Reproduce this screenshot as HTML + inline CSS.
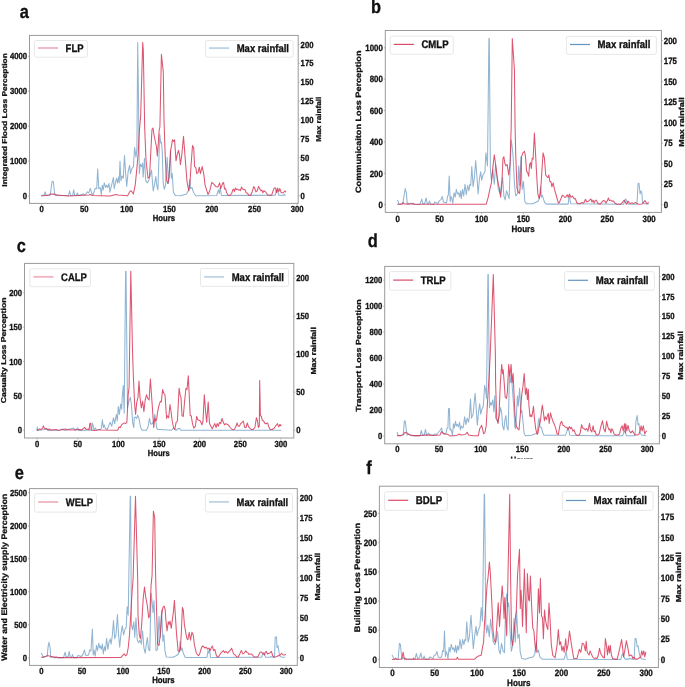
<!DOCTYPE html>
<html><head><meta charset="utf-8"><style>
html,body{margin:0;padding:0;background:#fff;width:685px;height:687px;overflow:hidden}
svg{display:block;filter:blur(0.3px)}
text{font-family:"Liberation Sans", sans-serif;font-weight:bold;fill:#111;stroke:#111;stroke-width:0.28px;text-rendering:geometricPrecision}
</style></head><body>
<svg width="685" height="687" viewBox="0 0 685 687">
<rect width="685" height="687" fill="#fff"/>
<clipPath id="clipa"><rect x="29.5" y="35.4" width="268.7" height="168"/></clipPath>
<polyline clip-path="url(#clipa)" points="41.2,195.5 44.1,195 45.1,191.9 46.3,195.5 50.2,195 52.1,181.2 53.3,181.7 54.8,195 56.3,195.5 57.4,194.5 58.4,195.5 68.6,195.5 69.6,190.9 70.7,195.5 72.7,195.5 73.7,189.9 74.7,195.5 76.3,195.5 77.3,192.9 78.3,195.5 81.9,194.5 83.4,193.9 85,195 87.5,191.9 88.8,192.9 90.3,188.3 91.6,192.9 93.1,195 95.2,188.3 96.7,188.8 97.7,168.9 98.8,188.8 100.3,187.8 101.3,195 102.2,185.2 103.2,189.9 104.3,182.9 105.7,187.5 106.6,185.2 107.8,187.5 109,183.5 109.9,192.2 111.3,186.4 113.4,177.6 114.2,188.7 116.5,178.2 117.5,182.9 118.6,177.1 119.2,182.9 120,161.3 120.9,180.6 122,175.9 123.3,178.2 124.5,155.5 125.5,171.2 126.7,186.4 128.2,171.2 129.6,165.4 130.5,173.6 131.7,168.9 133.4,166.6 134.6,147.4 136,157.3 136.9,149.1 137.7,42.6 138.5,100 139.3,173.6 140.4,164.3 141.6,166.6 142.5,163.1 143.1,177.1 144.5,158.4 145.7,180.6 147.4,182.9 149.1,179.4 151.5,170.1 153.2,191 154.4,185.2 155.8,176.5 156.7,185.2 157.9,189.9 159.7,134 160.8,143.3 161.4,142.1 162.2,150.3 163.2,182.9 164.3,189.3 165.5,185.2 167.2,157.3 168.4,183.5 169.6,166.6 170.5,150.3 171.3,178.2 172.2,173.6 173.4,192.2 175.4,195.5 180.6,195.7 186.4,194 188.8,189.9 189.7,179.4 190.5,188.7 192,187.5 193.4,192.2 195.8,195.7 203.9,195.7 216.7,195.5 218.5,189.9 219.3,193.4 220.2,187.5 221.4,195.5 275.2,195.3 276.4,190.1 277.2,191.7 277.7,190.7 278.8,195.3 283.4,195.3 284.4,194.2 285.4,195.8" fill="none" stroke="#4682b4" stroke-opacity="0.6" stroke-width="1.05" stroke-linejoin="round"/>
<polyline clip-path="url(#clipa)" points="41.2,196 49.2,195 50.2,194.1 54.3,194.1 56.3,195 62.5,195.5 68.6,196 89,195 90.6,194.5 92.1,195.5 110,196 116,194.5 117.7,195.1 127.6,195.7 130,191.3 131.3,190.8 133.4,194 135.2,185.2 136.7,170.1 138.1,154.9 139.3,131.6 140.7,115.3 142.7,42.6 143.3,50 144.7,128 146,160 148,178.2 149.5,177 152,129.3 153,128 154,135 156.5,147 157.3,156.1 158.3,143.3 159.1,130.5 159.9,127 161.4,54.4 163.3,72.1 164,120 165.2,154.9 166.4,179.4 167.8,183.5 169,178.2 170.7,150.3 172.5,139.8 173.6,141.5 174.6,139.8 176,160.8 177.1,154.9 178.5,150.3 179.5,154.9 180.4,164.8 181.8,154.9 183.5,136.3 185.3,159.6 187,181.7 188.8,191 189.9,184 191.1,164.3 192.5,145.6 193.7,147.9 194.6,166.6 195.8,167.7 196.7,173.6 198.1,172.4 199.3,167.2 200.4,173.6 202.2,166.6 203.7,173.6 205.1,185.2 206.2,188.7 208,194.5 209.7,191 211.8,182.3 213.2,183.5 215.6,186.4 217.9,187 219.6,182.9 220.8,188.7 222.5,183.5 223.6,182.5 224.6,189.1 225.6,188.6 226.6,192.7 228.2,195.3 230.2,195.3 231.8,193.2 232.8,189.6 233.8,189.1 234.3,191.7 235.5,188.1 236.6,189.6 237.6,189.1 238.9,190.1 239.9,189.6 240.4,190.7 241.5,187.1 242.5,189.1 244,189.6 245,189.6 246.1,192.7 247.6,193.2 248.6,195.3 250.7,195.3 252.2,191.7 253.7,186.6 254.7,188.1 255.8,191.7 257.3,190.7 258.6,186.4 259.9,189.1 260.9,190.7 261.9,190.1 262.9,192.7 263.9,190.7 265.5,191.7 267.5,194.7 269,195.3 271.6,195.3 273.1,190.7 274.2,188.1 275.7,188.1 276.5,192.7 277.7,188.1 278.8,191.7 279.8,188.6 281.3,192.7 283.4,192.7 284.9,190.7 285.9,192.2" fill="none" stroke="#d42c4e" stroke-opacity="0.8" stroke-width="1.05" stroke-linejoin="round"/>
<rect x="29.5" y="35.4" width="268.7" height="168" fill="none" stroke="#9a9a9a" stroke-width="1"/>
<line x1="41.6" y1="203.4" x2="41.6" y2="204.9" stroke="#9a9a9a" stroke-width="0.7"/>
<text transform="translate(41.6,211.5) scale(1,1.15)" font-size="7.7" text-anchor="middle">0</text>
<line x1="84.18" y1="203.4" x2="84.18" y2="204.9" stroke="#9a9a9a" stroke-width="0.7"/>
<text transform="translate(84.18,211.5) scale(1,1.15)" font-size="7.7" text-anchor="middle">50</text>
<line x1="126.77" y1="203.4" x2="126.77" y2="204.9" stroke="#9a9a9a" stroke-width="0.7"/>
<text transform="translate(126.77,211.5) scale(1,1.15)" font-size="7.7" text-anchor="middle">100</text>
<line x1="169.35" y1="203.4" x2="169.35" y2="204.9" stroke="#9a9a9a" stroke-width="0.7"/>
<text transform="translate(169.35,211.5) scale(1,1.15)" font-size="7.7" text-anchor="middle">150</text>
<line x1="211.93" y1="203.4" x2="211.93" y2="204.9" stroke="#9a9a9a" stroke-width="0.7"/>
<text transform="translate(211.93,211.5) scale(1,1.15)" font-size="7.7" text-anchor="middle">200</text>
<line x1="254.52" y1="203.4" x2="254.52" y2="204.9" stroke="#9a9a9a" stroke-width="0.7"/>
<text transform="translate(254.52,211.5) scale(1,1.15)" font-size="7.7" text-anchor="middle">250</text>
<line x1="297.1" y1="203.4" x2="297.1" y2="204.9" stroke="#9a9a9a" stroke-width="0.7"/>
<text transform="translate(297.1,211.5) scale(1,1.15)" font-size="7.7" text-anchor="middle">300</text>
<line x1="28" y1="196.1" x2="29.5" y2="196.1" stroke="#9a9a9a" stroke-width="0.7"/>
<text transform="translate(27.1,199.2) scale(1,1.15)" font-size="7.7" text-anchor="end">0</text>
<line x1="28" y1="161.15" x2="29.5" y2="161.15" stroke="#9a9a9a" stroke-width="0.7"/>
<text transform="translate(27.1,164.25) scale(1,1.15)" font-size="7.7" text-anchor="end">1000</text>
<line x1="28" y1="126.2" x2="29.5" y2="126.2" stroke="#9a9a9a" stroke-width="0.7"/>
<text transform="translate(27.1,129.3) scale(1,1.15)" font-size="7.7" text-anchor="end">2000</text>
<line x1="28" y1="91.25" x2="29.5" y2="91.25" stroke="#9a9a9a" stroke-width="0.7"/>
<text transform="translate(27.1,94.35) scale(1,1.15)" font-size="7.7" text-anchor="end">3000</text>
<line x1="28" y1="56.3" x2="29.5" y2="56.3" stroke="#9a9a9a" stroke-width="0.7"/>
<text transform="translate(27.1,59.4) scale(1,1.15)" font-size="7.7" text-anchor="end">4000</text>
<line x1="298.2" y1="195.6" x2="299.7" y2="195.6" stroke="#9a9a9a" stroke-width="0.7"/>
<text transform="translate(300.6,198.7) scale(1,1.15)" font-size="7.7">0</text>
<line x1="298.2" y1="176.7" x2="299.7" y2="176.7" stroke="#9a9a9a" stroke-width="0.7"/>
<text transform="translate(300.6,179.8) scale(1,1.15)" font-size="7.7">25</text>
<line x1="298.2" y1="157.8" x2="299.7" y2="157.8" stroke="#9a9a9a" stroke-width="0.7"/>
<text transform="translate(300.6,160.9) scale(1,1.15)" font-size="7.7">50</text>
<line x1="298.2" y1="138.9" x2="299.7" y2="138.9" stroke="#9a9a9a" stroke-width="0.7"/>
<text transform="translate(300.6,142) scale(1,1.15)" font-size="7.7">75</text>
<line x1="298.2" y1="120" x2="299.7" y2="120" stroke="#9a9a9a" stroke-width="0.7"/>
<text transform="translate(300.6,123.1) scale(1,1.15)" font-size="7.7">100</text>
<line x1="298.2" y1="101.1" x2="299.7" y2="101.1" stroke="#9a9a9a" stroke-width="0.7"/>
<text transform="translate(300.6,104.2) scale(1,1.15)" font-size="7.7">125</text>
<line x1="298.2" y1="82.2" x2="299.7" y2="82.2" stroke="#9a9a9a" stroke-width="0.7"/>
<text transform="translate(300.6,85.3) scale(1,1.15)" font-size="7.7">150</text>
<line x1="298.2" y1="63.3" x2="299.7" y2="63.3" stroke="#9a9a9a" stroke-width="0.7"/>
<text transform="translate(300.6,66.4) scale(1,1.15)" font-size="7.7">175</text>
<line x1="298.2" y1="44.4" x2="299.7" y2="44.4" stroke="#9a9a9a" stroke-width="0.7"/>
<text transform="translate(300.6,47.5) scale(1,1.15)" font-size="7.7">200</text>
<text transform="translate(6.6,119.9) rotate(-90) scale(1.2,1)" font-size="7" text-anchor="middle">Integrated Flood Loss Perception</text>
<text transform="translate(320.6,119.2) rotate(-90) scale(1.15,1)" font-size="7.1" text-anchor="middle">Max rainfall</text>
<text transform="translate(163.9,220.5) scale(1,1.15)" font-size="7.7" text-anchor="middle">Hours</text>
<text transform="translate(19.82,17.5) scale(1,1.15)" font-size="16.4">a</text>
<rect x="34.4" y="40.5" width="53" height="16.7" rx="1.8" fill="#fff" stroke="#e4e4e4" stroke-width="0.9"/>
<line x1="38" y1="48" x2="58" y2="48" stroke="#d42c4e" stroke-opacity="0.34" stroke-width="1.9"/>
<text transform="translate(65.6,51.67) scale(1,1.15)" font-size="9.5">FLP</text>
<rect x="205.5" y="40.5" width="87.6" height="16.7" rx="1.8" fill="#fff" stroke="#e4e4e4" stroke-width="0.9"/>
<line x1="209.1" y1="48.1" x2="229.1" y2="48.1" stroke="#4682b4" stroke-opacity="0.34" stroke-width="1.9"/>
<text transform="translate(236.7,51.77) scale(1,1.15)" font-size="9.5">Max rainfall</text>
<clipPath id="clipb"><rect x="385.3" y="30.5" width="276.1" height="181.9"/></clipPath>
<polyline clip-path="url(#clipb)" points="397.2,200.1 398.1,201.1 398.9,204.2 402.7,203.6 404.2,195 405.2,188.6 406.4,192.9 407.3,204.2 408.1,203.1 408.8,204.2 410.1,203.6 411.3,203.1 412.4,204.2 420,204.4 421.8,199 422.8,203.6 424.6,203.6 426.2,198 427.2,203.6 428.5,203.6 429.4,201.1 430.6,204.2 433.8,204.2 434.9,202.1 436.4,202.6 437.9,203.6 439.5,200.6 441,199.6 442.2,196.5 443.5,202.1 445.1,202.6 446.6,202.6 447.6,196 448.3,195.5 449.2,176.1 450.2,201.6 451,196.5 451.7,198 452.7,203.1 454.1,192.9 455.3,197 456.3,189.3 457.5,193.9 458.6,192.9 459.6,197 460.6,190.9 461.3,198.6 462.6,189.4 463.7,196 465,184.2 466.3,194.7 467.6,185.5 468.9,190.7 469.8,184.2 470.7,185.5 471.8,166.5 473.1,186.8 474.4,177.6 475.7,160.6 476.8,175 478.1,194 479.4,179 480.7,171.7 481.6,180.3 482.9,175 484.9,171.7 485.9,152.8 487.5,165.9 488.9,38.6 489.3,38.6 490.4,169.8 491.4,180.3 492.8,169.8 494.3,184.2 495.6,164.5 496.9,176.3 498.3,189.4 500,193.4 501.3,185.5 502.6,177.6 503.9,196 505.2,199.9 506.5,190.7 507.8,194.7 509.1,198.6 510.4,161.9 511.1,139.7 512.1,146.2 513.1,156.7 514.4,182.9 515.7,196 517.6,193.4 518.7,165.9 519.6,185.5 520.9,156.7 522.2,189.4 523.5,181.6 524.8,201.2 526.3,203.8 532.9,203.8 535.5,202.5 538.1,201.2 539.4,198.6 540.5,186.8 541.4,197.3 542.3,195.3 543.3,198.6 544.7,202.5 546.6,204.1 568.2,204.1 568.9,197.3 569.5,196 570.2,201.2 570.9,203.8 623.7,204.2 624.7,201.1 625.8,199 627,201.6 628,204.2 637,204.2 638,183.7 639,183.2 640.1,193.9 641.1,190.9 641.9,192.9 642.6,203.1 643.6,203.6 648.8,204.2" fill="none" stroke="#4682b4" stroke-opacity="0.6" stroke-width="1.05" stroke-linejoin="round"/>
<polyline clip-path="url(#clipb)" points="397.2,204.2 402.2,204.2 403.2,202.6 404.2,204 412.4,204 413.4,203.3 414.4,204.2 486.2,204.2 488.2,197.3 490.1,188.1 491.4,182.9 493,165.9 494.3,154.7 495.6,164.5 496.9,175 498.3,184.2 499.3,188.1 500.6,197.3 501.7,186.8 503,158 503.9,156.7 504.8,163.2 505.9,165.9 507.2,164.5 508.7,175 510,164.5 511.2,127 512.3,38.6 514.4,69.3 515.1,127 515.7,154 517,188.1 518.3,192.1 519.6,193.4 520.5,182.9 521.6,156.7 522.9,152.8 524.5,151.4 525.5,156.7 526.6,171.1 527.6,172.4 528.7,176.3 529.6,164.5 530.5,162.6 531.3,168.5 532.2,158 533.1,159.3 534.4,133.1 535.5,152.8 536.5,172.4 537.8,193.4 539.1,198.6 540.5,193.4 541.8,172.4 543.1,152.8 544.4,158 545.7,175 546.6,176.3 547.9,177.6 548.8,175 549.9,181.6 550.9,181.6 551.9,186.8 553.2,182.9 554.5,189.4 556.4,196 558.4,203.2 559.3,202.5 561,198.6 562.3,195.3 563.6,196 564.6,197.3 565.6,197.3 567.2,194.7 568.2,197.3 569.5,194 570.9,197.3 572.4,196 574.1,198.6 575.4,198.6 576.7,202.5 578.1,203.8 580,203.8 582,202.5 583.7,203.2 585.5,199.3 586.6,201.9 588.5,201.2 589.8,199.9 591,199 592,202.1 593.1,200.1 594.1,203.1 595.1,200.6 596.1,200.1 597.2,202.1 598.2,203.6 600.2,204.2 601.8,202.1 603.3,200.6 604.8,201.1 606.1,203.1 607.4,200.6 608.4,198 609.4,200.6 610.4,200.1 612,201.1 613.5,201.1 614.5,202.6 615.5,203.6 617.1,204.2 620.7,204.2 622.7,202.1 624.2,200.1 625.3,202.1 626.3,204.2 627,203.1 628,201.1 629.3,203.1 630.4,203.6 631.9,202.6 633.4,203.6 635,202.6 636.5,203.1 638,204.2 642.1,204 643.6,202.1 645,200.6 646,202.6 647,203.6 648.2,202.6 648.8,203.1" fill="none" stroke="#d42c4e" stroke-opacity="0.8" stroke-width="1.05" stroke-linejoin="round"/>
<rect x="385.3" y="30.5" width="276.1" height="181.9" fill="none" stroke="#9a9a9a" stroke-width="1"/>
<line x1="397.7" y1="212.4" x2="397.7" y2="213.9" stroke="#9a9a9a" stroke-width="0.7"/>
<text transform="translate(397.7,221.9) scale(1,1.15)" font-size="7.9" text-anchor="middle">0</text>
<line x1="439.6" y1="212.4" x2="439.6" y2="213.9" stroke="#9a9a9a" stroke-width="0.7"/>
<text transform="translate(439.6,221.9) scale(1,1.15)" font-size="7.9" text-anchor="middle">50</text>
<line x1="481.5" y1="212.4" x2="481.5" y2="213.9" stroke="#9a9a9a" stroke-width="0.7"/>
<text transform="translate(481.5,221.9) scale(1,1.15)" font-size="7.9" text-anchor="middle">100</text>
<line x1="523.4" y1="212.4" x2="523.4" y2="213.9" stroke="#9a9a9a" stroke-width="0.7"/>
<text transform="translate(523.4,221.9) scale(1,1.15)" font-size="7.9" text-anchor="middle">150</text>
<line x1="565.3" y1="212.4" x2="565.3" y2="213.9" stroke="#9a9a9a" stroke-width="0.7"/>
<text transform="translate(565.3,221.9) scale(1,1.15)" font-size="7.9" text-anchor="middle">200</text>
<line x1="607.2" y1="212.4" x2="607.2" y2="213.9" stroke="#9a9a9a" stroke-width="0.7"/>
<text transform="translate(607.2,221.9) scale(1,1.15)" font-size="7.9" text-anchor="middle">250</text>
<line x1="649.1" y1="212.4" x2="649.1" y2="213.9" stroke="#9a9a9a" stroke-width="0.7"/>
<text transform="translate(649.1,221.9) scale(1,1.15)" font-size="7.9" text-anchor="middle">300</text>
<line x1="383.8" y1="204.7" x2="385.3" y2="204.7" stroke="#9a9a9a" stroke-width="0.7"/>
<text transform="translate(382.9,207.88) scale(1,1.15)" font-size="7.9" text-anchor="end">0</text>
<line x1="383.8" y1="173.32" x2="385.3" y2="173.32" stroke="#9a9a9a" stroke-width="0.7"/>
<text transform="translate(382.9,176.5) scale(1,1.15)" font-size="7.9" text-anchor="end">200</text>
<line x1="383.8" y1="141.94" x2="385.3" y2="141.94" stroke="#9a9a9a" stroke-width="0.7"/>
<text transform="translate(382.9,145.12) scale(1,1.15)" font-size="7.9" text-anchor="end">400</text>
<line x1="383.8" y1="110.56" x2="385.3" y2="110.56" stroke="#9a9a9a" stroke-width="0.7"/>
<text transform="translate(382.9,113.74) scale(1,1.15)" font-size="7.9" text-anchor="end">600</text>
<line x1="383.8" y1="79.18" x2="385.3" y2="79.18" stroke="#9a9a9a" stroke-width="0.7"/>
<text transform="translate(382.9,82.36) scale(1,1.15)" font-size="7.9" text-anchor="end">800</text>
<line x1="383.8" y1="47.8" x2="385.3" y2="47.8" stroke="#9a9a9a" stroke-width="0.7"/>
<text transform="translate(382.9,50.98) scale(1,1.15)" font-size="7.9" text-anchor="end">1000</text>
<line x1="661.4" y1="204.8" x2="662.9" y2="204.8" stroke="#9a9a9a" stroke-width="0.7"/>
<text transform="translate(663.8,207.98) scale(1,1.15)" font-size="7.9">0</text>
<line x1="661.4" y1="184.28" x2="662.9" y2="184.28" stroke="#9a9a9a" stroke-width="0.7"/>
<text transform="translate(663.8,187.45) scale(1,1.15)" font-size="7.9">25</text>
<line x1="661.4" y1="163.75" x2="662.9" y2="163.75" stroke="#9a9a9a" stroke-width="0.7"/>
<text transform="translate(663.8,166.93) scale(1,1.15)" font-size="7.9">50</text>
<line x1="661.4" y1="143.23" x2="662.9" y2="143.23" stroke="#9a9a9a" stroke-width="0.7"/>
<text transform="translate(663.8,146.4) scale(1,1.15)" font-size="7.9">75</text>
<line x1="661.4" y1="122.7" x2="662.9" y2="122.7" stroke="#9a9a9a" stroke-width="0.7"/>
<text transform="translate(663.8,125.88) scale(1,1.15)" font-size="7.9">100</text>
<line x1="661.4" y1="102.17" x2="662.9" y2="102.17" stroke="#9a9a9a" stroke-width="0.7"/>
<text transform="translate(663.8,105.35) scale(1,1.15)" font-size="7.9">125</text>
<line x1="661.4" y1="81.65" x2="662.9" y2="81.65" stroke="#9a9a9a" stroke-width="0.7"/>
<text transform="translate(663.8,84.83) scale(1,1.15)" font-size="7.9">150</text>
<line x1="661.4" y1="61.12" x2="662.9" y2="61.12" stroke="#9a9a9a" stroke-width="0.7"/>
<text transform="translate(663.8,64.3) scale(1,1.15)" font-size="7.9">175</text>
<line x1="661.4" y1="40.6" x2="662.9" y2="40.6" stroke="#9a9a9a" stroke-width="0.7"/>
<text transform="translate(663.8,43.78) scale(1,1.15)" font-size="7.9">200</text>
<text transform="translate(361.3,121.75) rotate(-90) scale(1.17,1)" font-size="7.8" text-anchor="middle">Communicaiton Loss Perception</text>
<text transform="translate(683.8,122.1) rotate(-90) scale(1.25,1)" font-size="7.2" text-anchor="middle">Max rainfall</text>
<text transform="translate(523.1,231.7) scale(1,1.15)" font-size="8" text-anchor="middle">Hours</text>
<text transform="translate(371.02,12.9) scale(1,1.15)" font-size="16.4">b</text>
<rect x="390.2" y="36.2" width="63.1" height="18" rx="1.8" fill="#fff" stroke="#e4e4e4" stroke-width="0.9"/>
<line x1="393.8" y1="44.4" x2="413.8" y2="44.4" stroke="#d42c4e" stroke-opacity="0.85" stroke-width="1.2"/>
<text transform="translate(421.4,48.11) scale(1,1.15)" font-size="9.6">CMLP</text>
<rect x="566.4" y="36.4" width="90" height="18" rx="1.8" fill="#fff" stroke="#e4e4e4" stroke-width="0.9"/>
<line x1="570" y1="44.5" x2="590" y2="44.5" stroke="#4682b4" stroke-opacity="0.85" stroke-width="1.2"/>
<text transform="translate(597.6,48.21) scale(1,1.15)" font-size="9.6">Max rainfall</text>
<clipPath id="clipc"><rect x="24.5" y="263.4" width="269.3" height="174.6"/></clipPath>
<polyline clip-path="url(#clipc)" points="36.8,430.5 37.2,427.1 37.9,430.5 47.3,428.9 48.3,430.5 60,430 62.6,428.9 64.1,430.5 73.8,428.1 74.9,430.5 77.9,427.9 78.9,430.5 91.7,430 92.4,423 93.2,425.9 94.1,430 95.3,427.9 96.3,430 100,429.5 101.3,428.8 102.4,419.7 103.3,427.5 104.2,424.9 105.2,428.2 107.2,429.5 108.5,426.2 110.2,422.3 111.8,426.2 113.5,417.7 114.7,423.6 116.4,414.4 117.3,421 118.3,406.6 119.4,414.4 120.7,404 121.6,409.2 122.3,396.1 123.3,385.6 124.2,413.1 125.6,271.2 126,271.2 127.5,407.9 128.8,401.3 130.4,397.4 131.4,405.3 132.8,423.6 133.8,427.5 134.3,417.7 135.6,417.1 136.7,418.4 137.7,415.1 139,418.4 140.6,427.5 142.2,430.2 146.5,430.2 148.2,426.2 149.5,418.4 150.8,424.3 152.4,423.6 153.7,421 154.8,414.4 155.7,419.7 156.6,427.5 157.6,429.5 160.3,429.5 171.6,430.2 173.5,428.2 174.8,429.5 176.1,430.2 178.1,428.8 179.4,428.2 180.7,430.2 281.3,430.2" fill="none" stroke="#4682b4" stroke-opacity="0.6" stroke-width="1.05" stroke-linejoin="round"/>
<polyline clip-path="url(#clipc)" points="36.8,430.5 39.6,428.9 41.1,429.5 42.7,427.9 43.4,425.9 44.2,427.9 45.2,428.9 46.2,428.4 47.8,430 49.3,428.9 50.8,430 57,429.5 58,430.5 65.7,428.9 66.7,430 68.7,429.5 70.3,430 80,429.5 81.5,430 83.5,428.4 84.6,427.4 85.6,428.9 86.6,429.5 88.1,428.9 89.2,430 89.7,423.8 90.7,423.3 91.2,430 94.3,430.5 98.4,430 99.4,429.5 100.4,430 117.7,430.2 119,426.9 120.3,427.5 121.6,424.9 122.9,423.6 124.2,422.9 125.5,423.6 126.9,422.3 127.5,409.2 128.2,394.8 129.1,386.9 129.6,350 130.8,271.2 132.5,350 133.4,377.8 134.7,405.3 135.6,414.4 136.7,402.6 138,397.4 139,381 140,397.4 141.3,407.9 142.6,401.3 143.9,411.8 145.2,400 146.5,394.8 147.8,398.7 149.1,400 150.4,379.1 151.4,393.5 152.4,407.9 153.7,427.5 154.8,418.4 155.7,421 156.6,419.7 157.6,411.8 159,405.3 160.3,401.3 161.3,402 162.6,389.5 163.9,393.5 165,394.8 165.7,405.3 166.6,418.4 167.6,415.7 168.7,417.7 170,404.6 170.9,410.5 172.2,421 173.5,427.5 174.8,429.5 176.1,422.3 177.4,421 179.1,388.2 180.1,394.8 181,397.4 182,415.7 183.3,416.4 184.7,400 186,388.2 187,389.5 188.3,375.8 189.2,394.8 190.2,415.7 191.2,415.7 192.5,423.6 193.8,428.2 195.4,426.2 196.7,416.4 197.8,419.7 199.1,420.3 200.4,421 201.9,424.9 203,421 204.3,394.8 205.6,411.8 206.7,422.3 208.2,402 209.5,423.6 210.9,426.2 212.2,428.8 213.5,426.2 214.8,423.6 216.1,427.5 217.1,423.6 218.5,426.2 219.4,422.3 220.7,423.6 222,418.4 223.3,422.3 224.6,424.9 225.9,423.6 227,424.3 228.3,424.9 230.2,427.5 232.2,429.5 234.2,429.5 235.5,427.5 237.1,423 238.1,426.2 239.4,426.2 240.7,423.6 242,422.3 243.3,421 244.7,427.5 246,427.5 247.3,423 248.6,426.9 249.9,428.2 251.2,429.5 253.2,429.5 254.9,427.5 256.4,417.7 257.5,421 258.4,427.5 259.3,426.2 259.7,380.4 260.4,415.7 261.4,416.4 262.3,420.3 263.6,421 265,423.6 266.3,423.6 267.6,423 268.9,426.9 270.2,429.5 272.2,429.5 274.1,428.2 275.4,426.2 277.4,423.6 278.7,426.9 280,424.3 281.3,426.2" fill="none" stroke="#d42c4e" stroke-opacity="0.8" stroke-width="1.05" stroke-linejoin="round"/>
<rect x="24.5" y="263.4" width="269.3" height="174.6" fill="none" stroke="#9a9a9a" stroke-width="1"/>
<line x1="37.2" y1="438" x2="37.2" y2="439.5" stroke="#9a9a9a" stroke-width="0.7"/>
<text transform="translate(37.2,446.5) scale(1,1.15)" font-size="7.7" text-anchor="middle">0</text>
<line x1="77.82" y1="438" x2="77.82" y2="439.5" stroke="#9a9a9a" stroke-width="0.7"/>
<text transform="translate(77.82,446.5) scale(1,1.15)" font-size="7.7" text-anchor="middle">50</text>
<line x1="118.43" y1="438" x2="118.43" y2="439.5" stroke="#9a9a9a" stroke-width="0.7"/>
<text transform="translate(118.43,446.5) scale(1,1.15)" font-size="7.7" text-anchor="middle">100</text>
<line x1="159.05" y1="438" x2="159.05" y2="439.5" stroke="#9a9a9a" stroke-width="0.7"/>
<text transform="translate(159.05,446.5) scale(1,1.15)" font-size="7.7" text-anchor="middle">150</text>
<line x1="199.67" y1="438" x2="199.67" y2="439.5" stroke="#9a9a9a" stroke-width="0.7"/>
<text transform="translate(199.67,446.5) scale(1,1.15)" font-size="7.7" text-anchor="middle">200</text>
<line x1="240.28" y1="438" x2="240.28" y2="439.5" stroke="#9a9a9a" stroke-width="0.7"/>
<text transform="translate(240.28,446.5) scale(1,1.15)" font-size="7.7" text-anchor="middle">250</text>
<line x1="280.9" y1="438" x2="280.9" y2="439.5" stroke="#9a9a9a" stroke-width="0.7"/>
<text transform="translate(280.9,446.5) scale(1,1.15)" font-size="7.7" text-anchor="middle">300</text>
<line x1="23" y1="430.2" x2="24.5" y2="430.2" stroke="#9a9a9a" stroke-width="0.7"/>
<text transform="translate(22.1,433.3) scale(1,1.15)" font-size="7.7" text-anchor="end">0</text>
<line x1="23" y1="395.85" x2="24.5" y2="395.85" stroke="#9a9a9a" stroke-width="0.7"/>
<text transform="translate(22.1,398.95) scale(1,1.15)" font-size="7.7" text-anchor="end">50</text>
<line x1="23" y1="361.5" x2="24.5" y2="361.5" stroke="#9a9a9a" stroke-width="0.7"/>
<text transform="translate(22.1,364.6) scale(1,1.15)" font-size="7.7" text-anchor="end">100</text>
<line x1="23" y1="327.15" x2="24.5" y2="327.15" stroke="#9a9a9a" stroke-width="0.7"/>
<text transform="translate(22.1,330.25) scale(1,1.15)" font-size="7.7" text-anchor="end">150</text>
<line x1="23" y1="292.8" x2="24.5" y2="292.8" stroke="#9a9a9a" stroke-width="0.7"/>
<text transform="translate(22.1,295.9) scale(1,1.15)" font-size="7.7" text-anchor="end">200</text>
<line x1="293.8" y1="430.2" x2="295.3" y2="430.2" stroke="#9a9a9a" stroke-width="0.7"/>
<text transform="translate(296.2,433.3) scale(1,1.15)" font-size="7.7">0</text>
<line x1="293.8" y1="392.23" x2="295.3" y2="392.23" stroke="#9a9a9a" stroke-width="0.7"/>
<text transform="translate(296.2,395.32) scale(1,1.15)" font-size="7.7">50</text>
<line x1="293.8" y1="354.25" x2="295.3" y2="354.25" stroke="#9a9a9a" stroke-width="0.7"/>
<text transform="translate(296.2,357.35) scale(1,1.15)" font-size="7.7">100</text>
<line x1="293.8" y1="316.27" x2="295.3" y2="316.27" stroke="#9a9a9a" stroke-width="0.7"/>
<text transform="translate(296.2,319.37) scale(1,1.15)" font-size="7.7">150</text>
<line x1="293.8" y1="278.3" x2="295.3" y2="278.3" stroke="#9a9a9a" stroke-width="0.7"/>
<text transform="translate(296.2,281.4) scale(1,1.15)" font-size="7.7">200</text>
<text transform="translate(6.4,350.45) rotate(-90) scale(1.22,1)" font-size="7.1" text-anchor="middle">Casualty Loss Perception</text>
<text transform="translate(316.2,350.85) rotate(-90) scale(1.2,1)" font-size="7.2" text-anchor="middle">Max rainfall</text>
<text transform="translate(158.8,455.6) scale(1,1.15)" font-size="7.6" text-anchor="middle">Hours</text>
<text transform="translate(16.76,252.4) scale(1,1.15)" font-size="16.4">c</text>
<rect x="29.9" y="268.8" width="60.6" height="17.9" rx="1.8" fill="#fff" stroke="#e4e4e4" stroke-width="0.9"/>
<line x1="33.5" y1="276.85" x2="53.5" y2="276.85" stroke="#d42c4e" stroke-opacity="0.34" stroke-width="1.9"/>
<text transform="translate(61.1,280.52) scale(1,1.15)" font-size="9.5">CALP</text>
<rect x="200.5" y="268.6" width="88" height="17.7" rx="1.8" fill="#fff" stroke="#e4e4e4" stroke-width="0.9"/>
<line x1="204.1" y1="276.9" x2="224.1" y2="276.9" stroke="#4682b4" stroke-opacity="0.34" stroke-width="1.9"/>
<text transform="translate(231.7,280.57) scale(1,1.15)" font-size="9.5">Max rainfall</text>
<clipPath id="clipd"><rect x="384.7" y="266.4" width="274.7" height="177.4"/></clipPath>
<polyline clip-path="url(#clipd)" points="397,432 398.1,435.1 399.1,435.6 403.2,435.1 404.4,420.8 405.2,421.3 406.2,428.9 407.1,435.1 408.3,434 409.8,435.1 411.3,435.6 420,435.6 421.4,430.5 422.4,435.1 424.1,435.1 425.5,429.5 426.5,435.1 427.7,434 428.7,433 429.7,435.1 433.3,435.1 434.9,434 436.4,434.6 437.9,433 439.5,431 440.5,430 441.5,427.9 442.5,432 443.5,433 445.1,434 446.1,433 447.1,427.9 447.9,427.9 448.6,408.5 449.4,408.5 450,430 450.7,428.9 451.7,432 452.4,435.1 453.5,423.8 454.3,427.9 455.5,421.3 456.3,425.9 457.3,424.3 458.4,426.9 459.6,422.3 460.4,430 461.4,425.9 462.4,427.9 463.3,427.3 464.6,416.8 465.9,424.7 467.2,418.1 468.5,422.1 469.4,416.8 470.5,399.1 471.5,418.1 473.1,414.2 475.1,393.2 476,405 477.3,425.3 478.6,411.6 479.7,403.7 480.7,414.2 482,409 483.3,406.3 484.6,385.4 485.5,389.3 486.5,398.5 487.9,274.6 488.3,274.6 489.5,407.6 490.4,402.4 491.4,405 492.8,399.8 493.8,411.6 494.7,395.9 495.6,418.1 496.7,419.4 498,422.1 499.3,415.5 500.6,407.6 501.7,412.9 502.6,426 503.9,429.9 504.8,420.7 505.9,415.5 506.9,427.3 508.2,429.9 509.5,372.3 510.4,382.8 511.5,374.9 512.4,389.3 513.7,406.3 514.8,427.3 515.7,428.6 517.4,395.9 518.3,406.3 519.6,388 520.9,412.9 521.8,410.3 522.9,420.7 524.2,433.8 525.5,435.8 531.6,435.2 535.5,433.8 537.4,432.5 538.4,420.7 539.1,418.1 540.1,427.3 541.4,427.3 542.7,432.5 544,435.2 565.6,435.2 566.9,431.2 568,428 568.9,429.9 569.8,435.2 595,435.8 622.7,435.8 624.2,430.9 625.3,431.9 626.3,435.8 635,435.8 636,420.7 637.2,415.5 638,424.7 639,423.7 640.1,432.9 641.6,435 646.2,435.8" fill="none" stroke="#4682b4" stroke-opacity="0.6" stroke-width="1.05" stroke-linejoin="round"/>
<polyline clip-path="url(#clipd)" points="397,435.6 401.1,435.6 403.2,434.6 405.2,432.2 406.2,433 407.3,433 408.3,434 410.3,435.1 413.9,435.6 420.5,435.6 425.7,435.1 428.7,435.1 433.3,435.6 440,435.1 441.5,431.5 442.5,433 444,434 446.1,434 448.1,434.6 450.2,436.1 456.3,435.6 459.4,434 460.9,435.1 465.2,434.5 467.2,432.3 468.5,434.9 473.1,435.8 478.3,435.8 479.7,428.6 480.7,427.3 481.6,425.3 482.5,428.6 483.6,433.8 484.9,432.5 486.2,426 487.5,402.4 489.1,376.2 490.2,355 493.3,274.6 495.4,355 495.6,382.8 496.7,418.1 498,423.4 499,415.5 500.3,384.1 501.7,364.4 502.6,373.6 503.2,369.7 504.3,384.1 505.2,397.2 506.5,398.5 507.4,391.9 508.7,364.4 509.8,376.2 511.1,364.4 512.1,382.8 513.1,373.6 514,393.2 515,415.5 516.3,426 517.6,428.6 519,429.9 520.3,415.5 521.6,395.9 522.9,386.7 524.2,373.6 525.5,394.5 526.6,388 527.4,399.8 528.3,389.3 528.9,405 530,416.8 530.9,414.9 531.8,416.8 532.9,410.3 533.5,406.3 534.4,418.1 535.7,428.6 537.1,434.5 538.1,432.5 539.1,426 540.5,420.7 541.4,411.6 542.3,405 543.3,411.6 544.4,420.7 545.3,416.8 546.6,419.4 547.5,415.5 548.3,413.5 549.2,423.4 550.5,412.9 551.9,418.1 553.2,422.1 554.5,424.7 555.8,428.6 557.1,433.8 558.4,434.5 559.3,428.6 560.4,423.4 561.7,421.4 563,425.3 564.3,426 565.6,427.3 566.9,427.3 568,429.9 569.3,426.6 570.6,428.6 571.5,427.3 572.8,431.2 574.1,429.9 575.4,433.8 576.7,435.2 578.7,435.2 580,433.8 581.6,424.7 582.6,428 584,428.6 585.3,429.9 586.6,428.6 587.9,431.2 589.5,423.4 590.5,429.9 591.8,431.9 593.1,425.8 594.1,431.9 595.1,430.9 596.3,435 597.7,435 599.2,433.9 600.7,426.8 602.5,420.7 603.8,428.8 605.3,431.9 606.6,421.2 607.9,426.8 608.9,429.9 609.9,428.8 610.9,432.9 611.7,428.8 612.7,429.9 614,433.9 615.5,435 618.1,435 619.6,433.9 620.7,428.8 622.2,425.8 623.2,430.9 624.5,423.7 625.3,432.9 625.8,423.7 626.8,430.9 628,425.3 629.3,430.9 630.9,432.9 632.4,430.9 633.7,432.9 635,435 637,435 638.8,434.5 640.1,430.9 641.1,425.8 642.1,430.9 643.3,425.8 644.7,433.9 645.7,431.9 646.7,430.9" fill="none" stroke="#d42c4e" stroke-opacity="0.8" stroke-width="1.05" stroke-linejoin="round"/>
<rect x="384.7" y="266.4" width="274.7" height="177.4" fill="none" stroke="#9a9a9a" stroke-width="1"/>
<line x1="397.3" y1="443.8" x2="397.3" y2="445.3" stroke="#9a9a9a" stroke-width="0.7"/>
<text transform="translate(397.3,452.4) scale(1,1.15)" font-size="7.7" text-anchor="middle">0</text>
<line x1="438.95" y1="443.8" x2="438.95" y2="445.3" stroke="#9a9a9a" stroke-width="0.7"/>
<text transform="translate(438.95,452.4) scale(1,1.15)" font-size="7.7" text-anchor="middle">50</text>
<line x1="480.6" y1="443.8" x2="480.6" y2="445.3" stroke="#9a9a9a" stroke-width="0.7"/>
<text transform="translate(480.6,452.4) scale(1,1.15)" font-size="7.7" text-anchor="middle">100</text>
<line x1="522.25" y1="443.8" x2="522.25" y2="445.3" stroke="#9a9a9a" stroke-width="0.7"/>
<text transform="translate(522.25,452.4) scale(1,1.15)" font-size="7.7" text-anchor="middle">150</text>
<line x1="563.9" y1="443.8" x2="563.9" y2="445.3" stroke="#9a9a9a" stroke-width="0.7"/>
<text transform="translate(563.9,452.4) scale(1,1.15)" font-size="7.7" text-anchor="middle">200</text>
<line x1="605.55" y1="443.8" x2="605.55" y2="445.3" stroke="#9a9a9a" stroke-width="0.7"/>
<text transform="translate(605.55,452.4) scale(1,1.15)" font-size="7.7" text-anchor="middle">250</text>
<line x1="647.2" y1="443.8" x2="647.2" y2="445.3" stroke="#9a9a9a" stroke-width="0.7"/>
<text transform="translate(647.2,452.4) scale(1,1.15)" font-size="7.7" text-anchor="middle">300</text>
<line x1="383.2" y1="435.9" x2="384.7" y2="435.9" stroke="#9a9a9a" stroke-width="0.7"/>
<text transform="translate(382.3,439) scale(1,1.15)" font-size="7.7" text-anchor="end">0</text>
<line x1="383.2" y1="409.95" x2="384.7" y2="409.95" stroke="#9a9a9a" stroke-width="0.7"/>
<text transform="translate(382.3,413.05) scale(1,1.15)" font-size="7.7" text-anchor="end">200</text>
<line x1="383.2" y1="384" x2="384.7" y2="384" stroke="#9a9a9a" stroke-width="0.7"/>
<text transform="translate(382.3,387.1) scale(1,1.15)" font-size="7.7" text-anchor="end">400</text>
<line x1="383.2" y1="358.05" x2="384.7" y2="358.05" stroke="#9a9a9a" stroke-width="0.7"/>
<text transform="translate(382.3,361.15) scale(1,1.15)" font-size="7.7" text-anchor="end">600</text>
<line x1="383.2" y1="332.1" x2="384.7" y2="332.1" stroke="#9a9a9a" stroke-width="0.7"/>
<text transform="translate(382.3,335.2) scale(1,1.15)" font-size="7.7" text-anchor="end">800</text>
<line x1="383.2" y1="306.15" x2="384.7" y2="306.15" stroke="#9a9a9a" stroke-width="0.7"/>
<text transform="translate(382.3,309.25) scale(1,1.15)" font-size="7.7" text-anchor="end">1000</text>
<line x1="383.2" y1="280.2" x2="384.7" y2="280.2" stroke="#9a9a9a" stroke-width="0.7"/>
<text transform="translate(382.3,283.3) scale(1,1.15)" font-size="7.7" text-anchor="end">1200</text>
<line x1="659.4" y1="435.6" x2="660.9" y2="435.6" stroke="#9a9a9a" stroke-width="0.7"/>
<text transform="translate(661.8,438.7) scale(1,1.15)" font-size="7.7">0</text>
<line x1="659.4" y1="415.73" x2="660.9" y2="415.73" stroke="#9a9a9a" stroke-width="0.7"/>
<text transform="translate(661.8,418.82) scale(1,1.15)" font-size="7.7">25</text>
<line x1="659.4" y1="395.85" x2="660.9" y2="395.85" stroke="#9a9a9a" stroke-width="0.7"/>
<text transform="translate(661.8,398.95) scale(1,1.15)" font-size="7.7">50</text>
<line x1="659.4" y1="375.98" x2="660.9" y2="375.98" stroke="#9a9a9a" stroke-width="0.7"/>
<text transform="translate(661.8,379.07) scale(1,1.15)" font-size="7.7">75</text>
<line x1="659.4" y1="356.1" x2="660.9" y2="356.1" stroke="#9a9a9a" stroke-width="0.7"/>
<text transform="translate(661.8,359.2) scale(1,1.15)" font-size="7.7">100</text>
<line x1="659.4" y1="336.23" x2="660.9" y2="336.23" stroke="#9a9a9a" stroke-width="0.7"/>
<text transform="translate(661.8,339.32) scale(1,1.15)" font-size="7.7">125</text>
<line x1="659.4" y1="316.35" x2="660.9" y2="316.35" stroke="#9a9a9a" stroke-width="0.7"/>
<text transform="translate(661.8,319.45) scale(1,1.15)" font-size="7.7">150</text>
<line x1="659.4" y1="296.48" x2="660.9" y2="296.48" stroke="#9a9a9a" stroke-width="0.7"/>
<text transform="translate(661.8,299.57) scale(1,1.15)" font-size="7.7">175</text>
<line x1="659.4" y1="276.6" x2="660.9" y2="276.6" stroke="#9a9a9a" stroke-width="0.7"/>
<text transform="translate(661.8,279.7) scale(1,1.15)" font-size="7.7">200</text>
<text transform="translate(361,355.45) rotate(-90) scale(1.2,1)" font-size="7.4" text-anchor="middle">Transport Loss Perception</text>
<text transform="translate(682.6,355.4) rotate(-90) scale(1.23,1)" font-size="7.2" text-anchor="middle">Max rainfall</text>
<text transform="translate(522,462.6) scale(1,1.15)" font-size="8" text-anchor="middle">Hours</text>
<text transform="translate(367.83,247.3) scale(1,1.15)" font-size="16.4">d</text>
<rect x="389.5" y="271.6" width="61.3" height="18.6" rx="1.8" fill="#fff" stroke="#e4e4e4" stroke-width="0.9"/>
<line x1="393.1" y1="280.1" x2="413.1" y2="280.1" stroke="#d42c4e" stroke-opacity="0.85" stroke-width="1.2"/>
<text transform="translate(420.7,283.81) scale(1,1.15)" font-size="9.6">TRLP</text>
<rect x="564.5" y="271.7" width="89.9" height="18.5" rx="1.8" fill="#fff" stroke="#e4e4e4" stroke-width="0.9"/>
<line x1="568.1" y1="280.3" x2="588.1" y2="280.3" stroke="#4682b4" stroke-opacity="0.85" stroke-width="1.2"/>
<text transform="translate(595.7,284.01) scale(1,1.15)" font-size="9.6">Max rainfall</text>
<clipPath id="clipe"><rect x="29.5" y="488.6" width="267.8" height="176.8"/></clipPath>
<polyline clip-path="url(#clipe)" points="41.3,653 42.3,655.1 43.1,657.6 47.2,656.1 48.2,645.9 49,642.3 50.1,647.9 50.8,657.6 52.3,656.6 53.8,657.6 63.5,657.6 65.1,652.2 66.1,657.1 68.1,656.6 69.2,651.5 70.2,657.1 71.5,657.6 72.5,654.6 73.6,657.6 76.8,657.6 77.9,655.6 79.9,656.1 81.4,656.6 83,654.1 84.5,650 85.5,655.1 87,655.6 88.6,655.1 89.6,650 90.9,651 92.4,629 93.2,655.1 94,650 95.2,656.1 96.5,645.4 97.5,650.5 98.8,643.3 99.8,647.9 100.5,646 101.3,649.3 102.4,644.1 103.3,653.9 104.6,646.7 105.5,650.6 106.6,638.2 107.9,649.3 108.9,642.7 110.2,638.8 111.1,644.1 112.4,634.9 113.5,620.5 114.7,638.8 116,634.9 117.4,614.6 118.6,634.9 119.7,647.3 121,633.6 122.3,625.7 123.6,634.9 124.9,629.6 126.2,627 127.2,606.7 128.2,615.2 130.2,496.3 130.6,496.3 131.4,624.4 132.5,629.6 133.8,621.8 134.7,637.5 136,617.9 137.3,640.1 138.6,642.7 140,640.1 141.3,644.1 142.6,631 143.9,648 145.2,653.2 146.5,642.7 147.4,637.5 148.5,649.3 149.8,650.6 151.1,593 152.1,602.1 153.1,612.6 154,600.8 155,628.3 156.1,650.6 157.6,649.3 159,616.5 160.3,637.5 161.6,610 162.9,641.4 163.9,634.9 164.9,650.6 166.3,656.9 172.9,657.2 176.1,655.8 178.1,654.5 179.4,650.6 180.1,641.4 181,650.6 182,648 183.3,653.2 185.3,657.4 206.9,657.4 208,650.6 208.9,653.2 209.5,649.3 210.6,657.4 261.7,657.3 262.7,653.9 263.8,652.4 264.8,655 265.6,657.3 269.9,657.3 270.9,656.5 271.9,657.3 274.5,657.3 275.2,637.1 276.5,637.1 277,647.8 278.1,645.8 279.1,652.9 280.1,656.5 282.2,657.3 285.2,657.3" fill="none" stroke="#4682b4" stroke-opacity="0.6" stroke-width="1.05" stroke-linejoin="round"/>
<polyline clip-path="url(#clipe)" points="41.3,657.6 45.2,656.6 47.2,655.6 49.2,656.1 51.3,656.6 53.3,657.1 56.4,657.1 58.4,657.6 121,657.4 122.9,655.2 124.2,653.9 125.5,655.8 126.9,654.5 128.2,648 129.5,634.9 130.8,613.9 132.1,591.7 133.1,578.6 135.5,496.3 137.7,580 138,615.2 139.3,634.9 140.4,638.8 141.7,624.4 143.2,598.2 144.5,587.1 145.9,598.2 147.2,604.8 148.7,617.9 149.8,615.2 151.1,585.1 152.1,575 153.4,511 154.7,517.5 155.6,575 156.6,611.3 157.6,644.1 159,645.4 160.3,634.9 161.6,615.2 162.9,607.4 164.2,606.1 165.2,610 165.7,617.9 167,631 168.3,621.8 169.2,624.4 170,621.1 171.3,628.3 172.6,617.9 173.5,611.3 174.4,600.2 175.5,617.9 176.5,633.6 178.1,650.6 179.4,651.9 180.5,648 181.4,631 182.4,607.4 183.3,610 184.4,624.4 185.7,632.3 187,638.8 187.9,639.5 189.2,632.3 190.5,640.1 191.9,632.3 193.2,634.9 194.5,645.4 196.4,653.2 198.4,655.8 199.7,653.9 201,649.3 202.3,646 203.6,646.7 205,648 206.3,647.3 207.6,649.3 208.9,648 210.2,650.6 211.5,647.3 212.4,646 213.5,650.6 214.8,649.3 216.1,654.5 217.4,657.2 218.7,656.5 220.7,653.2 222,651.9 223.3,650.6 224.6,652.6 225.9,651.3 227.6,653.2 228,652.9 229.5,650.9 230.6,649.9 231.6,648.3 232.6,650.9 233.6,653.9 235.2,655 236.7,657 238.2,657 239.8,653.9 241.3,650.4 242.8,653.9 244.3,652.9 245.9,650.9 246.9,652.4 247.9,652.9 248.9,654.5 250,653.9 251.3,653.9 252.5,655 254.1,657 257.6,657 258.7,655 260.2,651.9 261.2,651.9 262.2,652.9 263.3,653.9 264.3,655 265.3,652.4 266.3,651.4 267.3,653.9 268.4,653.4 269.9,652.9 271.4,651.4 272.8,656 274,657 275.5,657 277,656.5 278.6,655.5 280.1,655 281.6,653.4 283.2,655 284.7,655 285.7,653.9" fill="none" stroke="#d42c4e" stroke-opacity="0.8" stroke-width="1.05" stroke-linejoin="round"/>
<rect x="29.5" y="488.6" width="267.8" height="176.8" fill="none" stroke="#9a9a9a" stroke-width="1"/>
<line x1="41.3" y1="665.4" x2="41.3" y2="666.9" stroke="#9a9a9a" stroke-width="0.7"/>
<text transform="translate(41.3,673.9) scale(1,1.15)" font-size="7.7" text-anchor="middle">0</text>
<line x1="82.12" y1="665.4" x2="82.12" y2="666.9" stroke="#9a9a9a" stroke-width="0.7"/>
<text transform="translate(82.12,673.9) scale(1,1.15)" font-size="7.7" text-anchor="middle">50</text>
<line x1="122.93" y1="665.4" x2="122.93" y2="666.9" stroke="#9a9a9a" stroke-width="0.7"/>
<text transform="translate(122.93,673.9) scale(1,1.15)" font-size="7.7" text-anchor="middle">100</text>
<line x1="163.75" y1="665.4" x2="163.75" y2="666.9" stroke="#9a9a9a" stroke-width="0.7"/>
<text transform="translate(163.75,673.9) scale(1,1.15)" font-size="7.7" text-anchor="middle">150</text>
<line x1="204.57" y1="665.4" x2="204.57" y2="666.9" stroke="#9a9a9a" stroke-width="0.7"/>
<text transform="translate(204.57,673.9) scale(1,1.15)" font-size="7.7" text-anchor="middle">200</text>
<line x1="245.38" y1="665.4" x2="245.38" y2="666.9" stroke="#9a9a9a" stroke-width="0.7"/>
<text transform="translate(245.38,673.9) scale(1,1.15)" font-size="7.7" text-anchor="middle">250</text>
<line x1="286.2" y1="665.4" x2="286.2" y2="666.9" stroke="#9a9a9a" stroke-width="0.7"/>
<text transform="translate(286.2,673.9) scale(1,1.15)" font-size="7.7" text-anchor="middle">300</text>
<line x1="28" y1="657.8" x2="29.5" y2="657.8" stroke="#9a9a9a" stroke-width="0.7"/>
<text transform="translate(27.1,660.9) scale(1,1.15)" font-size="7.7" text-anchor="end">0</text>
<line x1="28" y1="624.78" x2="29.5" y2="624.78" stroke="#9a9a9a" stroke-width="0.7"/>
<text transform="translate(27.1,627.88) scale(1,1.15)" font-size="7.7" text-anchor="end">500</text>
<line x1="28" y1="591.76" x2="29.5" y2="591.76" stroke="#9a9a9a" stroke-width="0.7"/>
<text transform="translate(27.1,594.86) scale(1,1.15)" font-size="7.7" text-anchor="end">1000</text>
<line x1="28" y1="558.74" x2="29.5" y2="558.74" stroke="#9a9a9a" stroke-width="0.7"/>
<text transform="translate(27.1,561.84) scale(1,1.15)" font-size="7.7" text-anchor="end">1500</text>
<line x1="28" y1="525.72" x2="29.5" y2="525.72" stroke="#9a9a9a" stroke-width="0.7"/>
<text transform="translate(27.1,528.82) scale(1,1.15)" font-size="7.7" text-anchor="end">2000</text>
<line x1="28" y1="492.7" x2="29.5" y2="492.7" stroke="#9a9a9a" stroke-width="0.7"/>
<text transform="translate(27.1,495.8) scale(1,1.15)" font-size="7.7" text-anchor="end">2500</text>
<line x1="297.3" y1="657.8" x2="298.8" y2="657.8" stroke="#9a9a9a" stroke-width="0.7"/>
<text transform="translate(299.7,660.9) scale(1,1.15)" font-size="7.7">0</text>
<line x1="297.3" y1="637.84" x2="298.8" y2="637.84" stroke="#9a9a9a" stroke-width="0.7"/>
<text transform="translate(299.7,640.94) scale(1,1.15)" font-size="7.7">25</text>
<line x1="297.3" y1="617.88" x2="298.8" y2="617.88" stroke="#9a9a9a" stroke-width="0.7"/>
<text transform="translate(299.7,620.97) scale(1,1.15)" font-size="7.7">50</text>
<line x1="297.3" y1="597.91" x2="298.8" y2="597.91" stroke="#9a9a9a" stroke-width="0.7"/>
<text transform="translate(299.7,601.01) scale(1,1.15)" font-size="7.7">75</text>
<line x1="297.3" y1="577.95" x2="298.8" y2="577.95" stroke="#9a9a9a" stroke-width="0.7"/>
<text transform="translate(299.7,581.05) scale(1,1.15)" font-size="7.7">100</text>
<line x1="297.3" y1="557.99" x2="298.8" y2="557.99" stroke="#9a9a9a" stroke-width="0.7"/>
<text transform="translate(299.7,561.09) scale(1,1.15)" font-size="7.7">125</text>
<line x1="297.3" y1="538.02" x2="298.8" y2="538.02" stroke="#9a9a9a" stroke-width="0.7"/>
<text transform="translate(299.7,541.12) scale(1,1.15)" font-size="7.7">150</text>
<line x1="297.3" y1="518.06" x2="298.8" y2="518.06" stroke="#9a9a9a" stroke-width="0.7"/>
<text transform="translate(299.7,521.16) scale(1,1.15)" font-size="7.7">175</text>
<line x1="297.3" y1="498.1" x2="298.8" y2="498.1" stroke="#9a9a9a" stroke-width="0.7"/>
<text transform="translate(299.7,501.2) scale(1,1.15)" font-size="7.7">200</text>
<text transform="translate(7.1,577.2) rotate(-90) scale(1.11,1)" font-size="8" text-anchor="middle">Water and Electricity supply Perception</text>
<text transform="translate(320.4,576.7) rotate(-90) scale(1.21,1)" font-size="7.2" text-anchor="middle">Max rainfall</text>
<text transform="translate(163.4,683.2) scale(1,1.15)" font-size="7.8" text-anchor="middle">Hours</text>
<text transform="translate(14.66,479.1) scale(1,1.15)" font-size="16.4">e</text>
<rect x="34.6" y="493.6" width="61.8" height="18.5" rx="1.8" fill="#fff" stroke="#e4e4e4" stroke-width="0.9"/>
<line x1="38.2" y1="502" x2="58.2" y2="502" stroke="#d42c4e" stroke-opacity="0.34" stroke-width="1.9"/>
<text transform="translate(65.8,505.63) scale(1,1.15)" font-size="9.4">WELP</text>
<rect x="205.4" y="493.8" width="87.1" height="18.2" rx="1.8" fill="#fff" stroke="#e4e4e4" stroke-width="0.9"/>
<line x1="209" y1="501.9" x2="229" y2="501.9" stroke="#4682b4" stroke-opacity="0.34" stroke-width="1.9"/>
<text transform="translate(236.6,505.53) scale(1,1.15)" font-size="9.4">Max rainfall</text>
<clipPath id="clipf"><rect x="379.4" y="486.2" width="279" height="181.3"/></clipPath>
<polyline clip-path="url(#clipf)" points="392,655.1 392.9,656.6 393.9,659.2 398.2,659.2 399.4,643.3 400.4,644.3 401.2,653 402.1,659.2 403.3,657.6 404.8,659.2 405.8,658.1 406.9,659.2 415,659.2 416.4,653.5 417.6,658.6 419.4,658.1 420.9,653 421.9,658.1 423.2,658.6 424.2,656.1 425.3,659.2 428.6,659.2 429.9,657.1 431.4,657.6 432.9,658.6 434.1,655.6 435.5,655.1 437,651.5 438.2,657.1 440.1,657.6 441.6,657.1 442.6,650.5 443.6,651.5 444.5,631.1 445.4,656.6 446.2,651.5 447,653.5 448,658.6 449.1,647.4 450.1,652 451.3,644.3 452.5,649.5 453.6,647.9 454.6,652 455.6,645.4 456.5,653 457.6,646 458.7,650 460,639.5 461.3,648.7 462.6,639.5 463.9,644.7 464.8,639.5 465.7,640.8 466.8,621.8 468.1,642.1 469.4,636.9 471,615.3 472,630.3 473.3,648.7 474.7,635.6 476,626.4 477,635.6 478.3,630.3 479.9,626.4 481.2,607.4 482.5,621.2 484.2,494.3 484.6,494.3 485.8,623.8 486.7,633 487.8,625.1 489.3,636.9 490.6,619.2 491.9,630.3 493.3,642.1 495,644.7 496.3,639.5 497.6,631.6 498.9,650 500.2,653.9 501.5,643.4 503.2,651.3 504.5,652.6 505.8,600.2 506.7,593.7 507.7,606.8 508.7,602.8 510,630.3 511.3,651.3 512.6,646.1 514,618.5 515.3,642.1 516.6,610.7 517.9,638.2 519.2,634.2 520.2,652 521.8,658.4 525.6,659.2 530.1,657.6 533.1,656.9 534.7,653.9 536.2,641.7 537.4,652.3 538.4,650.1 539.9,656.9 542.2,659.2 564.2,659.2 565.2,655.4 566.1,650.8 567.2,659.2 620.8,659.4 622.3,653.9 623.6,656 624.9,659.1 628.9,659.1 630,658 631,659.1 634.1,659.1 635.1,638.6 636.1,638.6 637.1,646.8 638.1,645.8 639.2,652.9 640.2,657.5 642.2,659.1 645.8,659.4" fill="none" stroke="#4682b4" stroke-opacity="0.6" stroke-width="1.05" stroke-linejoin="round"/>
<polyline clip-path="url(#clipf)" points="392,659.4 394.6,659.2 395.6,658.1 396.6,659.2 401.2,659.2 402.1,657.1 403.1,652.2 403.8,656.1 404.5,659.2 413,659.2 413.5,658.1 414.3,659.2 456.4,659.2 457.4,657.3 458.5,659.2 474.7,659.2 476.6,657.2 478.6,655.9 481.2,655.2 482.5,647.4 483.6,642.1 484.5,623.8 485.8,604.1 487.1,584.5 488,577.9 489.4,562 490.4,574 491.7,600.2 493,630.3 494.3,640.8 495.6,642.1 496.9,623.8 498.2,602.8 499.5,626.4 500.9,604.1 502.2,585.8 503.2,600.2 504.1,618.5 504.8,597.6 505.8,617.2 506.7,635.6 509.7,494.3 510.6,578 511.6,639.5 512.6,645.4 514,633 515.3,618.5 516.3,610.7 517.6,574 519.5,549.3 520.3,608.4 521,590.3 521.8,602.4 522.5,626.6 524.4,569.1 525.3,599.4 526.3,632.7 527.4,573.6 528.6,599.4 529.4,600.9 530.4,575.9 531.6,605.4 532.8,628.1 533.9,631.1 535,644.8 536.2,652.3 537.4,620.6 538.4,588.8 539.5,613 540.4,578.2 541.5,616 542.5,617.5 543.4,638.7 544.5,610 545.6,620.6 546.8,626.6 547.8,629.6 549,603.1 550.1,620.6 551.3,644.8 552.8,655.4 555.1,657.6 557.1,644.8 558.3,629.6 559.6,644.8 560.7,641.7 561.9,650.8 563.1,646.3 564.2,652.3 565.7,638.7 566.7,650.8 568,644.8 569.5,631.1 571,641.7 572.2,649.3 573.7,658.4 577,658.4 578.2,653.9 579.3,649.3 580.8,652.3 582.3,643.3 583.8,644 585.4,650.8 586.2,641.2 587,650.9 588.1,653.9 589.1,655 590.1,650.9 591.3,653.9 592.7,657 594.2,658.5 595.7,658 597.1,658.5 598.3,655 599.5,648.3 600.5,652.9 601.6,655 602.9,657 604.4,658 605.4,638.6 606.5,645.8 607.5,655 608.5,645.8 609.5,652.9 610.3,645.3 611.4,655 612.6,658.5 614.6,659.1 617.2,659.1 618.7,652.9 620.3,645.8 621.6,639.6 622.6,647.8 623.6,657 624.9,649.9 626.4,640.7 627.4,645.8 628.4,650.9 629.1,656 630.5,655 631.8,655.5 632.8,658.5 634,657 635.1,659.1 637.6,659.1 639.2,658 640.7,657 641.7,650.9 642.7,655 643.8,650.9 644.8,657 645.8,651.9" fill="none" stroke="#d42c4e" stroke-opacity="0.8" stroke-width="1.05" stroke-linejoin="round"/>
<rect x="379.4" y="486.2" width="279" height="181.3" fill="none" stroke="#9a9a9a" stroke-width="1"/>
<line x1="392.4" y1="667.5" x2="392.4" y2="669" stroke="#9a9a9a" stroke-width="0.7"/>
<text transform="translate(392.4,676.3) scale(1,1.15)" font-size="8" text-anchor="middle">0</text>
<line x1="434.68" y1="667.5" x2="434.68" y2="669" stroke="#9a9a9a" stroke-width="0.7"/>
<text transform="translate(434.68,676.3) scale(1,1.15)" font-size="8" text-anchor="middle">50</text>
<line x1="476.97" y1="667.5" x2="476.97" y2="669" stroke="#9a9a9a" stroke-width="0.7"/>
<text transform="translate(476.97,676.3) scale(1,1.15)" font-size="8" text-anchor="middle">100</text>
<line x1="519.25" y1="667.5" x2="519.25" y2="669" stroke="#9a9a9a" stroke-width="0.7"/>
<text transform="translate(519.25,676.3) scale(1,1.15)" font-size="8" text-anchor="middle">150</text>
<line x1="561.53" y1="667.5" x2="561.53" y2="669" stroke="#9a9a9a" stroke-width="0.7"/>
<text transform="translate(561.53,676.3) scale(1,1.15)" font-size="8" text-anchor="middle">200</text>
<line x1="603.82" y1="667.5" x2="603.82" y2="669" stroke="#9a9a9a" stroke-width="0.7"/>
<text transform="translate(603.82,676.3) scale(1,1.15)" font-size="8" text-anchor="middle">250</text>
<line x1="646.1" y1="667.5" x2="646.1" y2="669" stroke="#9a9a9a" stroke-width="0.7"/>
<text transform="translate(646.1,676.3) scale(1,1.15)" font-size="8" text-anchor="middle">300</text>
<line x1="377.9" y1="659.3" x2="379.4" y2="659.3" stroke="#9a9a9a" stroke-width="0.7"/>
<text transform="translate(377,662.52) scale(1,1.15)" font-size="8" text-anchor="end">0</text>
<line x1="377.9" y1="630.16" x2="379.4" y2="630.16" stroke="#9a9a9a" stroke-width="0.7"/>
<text transform="translate(377,633.38) scale(1,1.15)" font-size="8" text-anchor="end">50</text>
<line x1="377.9" y1="601.02" x2="379.4" y2="601.02" stroke="#9a9a9a" stroke-width="0.7"/>
<text transform="translate(377,604.24) scale(1,1.15)" font-size="8" text-anchor="end">100</text>
<line x1="377.9" y1="571.88" x2="379.4" y2="571.88" stroke="#9a9a9a" stroke-width="0.7"/>
<text transform="translate(377,575.1) scale(1,1.15)" font-size="8" text-anchor="end">150</text>
<line x1="377.9" y1="542.74" x2="379.4" y2="542.74" stroke="#9a9a9a" stroke-width="0.7"/>
<text transform="translate(377,545.96) scale(1,1.15)" font-size="8" text-anchor="end">200</text>
<line x1="377.9" y1="513.6" x2="379.4" y2="513.6" stroke="#9a9a9a" stroke-width="0.7"/>
<text transform="translate(377,516.82) scale(1,1.15)" font-size="8" text-anchor="end">250</text>
<line x1="658.4" y1="659.3" x2="659.9" y2="659.3" stroke="#9a9a9a" stroke-width="0.7"/>
<text transform="translate(660.8,662.52) scale(1,1.15)" font-size="8">0</text>
<line x1="658.4" y1="638.96" x2="659.9" y2="638.96" stroke="#9a9a9a" stroke-width="0.7"/>
<text transform="translate(660.8,642.18) scale(1,1.15)" font-size="8">25</text>
<line x1="658.4" y1="618.62" x2="659.9" y2="618.62" stroke="#9a9a9a" stroke-width="0.7"/>
<text transform="translate(660.8,621.85) scale(1,1.15)" font-size="8">50</text>
<line x1="658.4" y1="598.29" x2="659.9" y2="598.29" stroke="#9a9a9a" stroke-width="0.7"/>
<text transform="translate(660.8,601.51) scale(1,1.15)" font-size="8">75</text>
<line x1="658.4" y1="577.95" x2="659.9" y2="577.95" stroke="#9a9a9a" stroke-width="0.7"/>
<text transform="translate(660.8,581.17) scale(1,1.15)" font-size="8">100</text>
<line x1="658.4" y1="557.61" x2="659.9" y2="557.61" stroke="#9a9a9a" stroke-width="0.7"/>
<text transform="translate(660.8,560.83) scale(1,1.15)" font-size="8">125</text>
<line x1="658.4" y1="537.27" x2="659.9" y2="537.27" stroke="#9a9a9a" stroke-width="0.7"/>
<text transform="translate(660.8,540.5) scale(1,1.15)" font-size="8">150</text>
<line x1="658.4" y1="516.94" x2="659.9" y2="516.94" stroke="#9a9a9a" stroke-width="0.7"/>
<text transform="translate(660.8,520.16) scale(1,1.15)" font-size="8">175</text>
<line x1="658.4" y1="496.6" x2="659.9" y2="496.6" stroke="#9a9a9a" stroke-width="0.7"/>
<text transform="translate(660.8,499.82) scale(1,1.15)" font-size="8">200</text>
<text transform="translate(360.3,577.5) rotate(-90) scale(1.12,1)" font-size="8.1" text-anchor="middle">Building Loss Perception</text>
<text transform="translate(681,577.15) rotate(-90) scale(1.27,1)" font-size="7.2" text-anchor="middle">Max rainfall</text>
<text transform="translate(518.8,685.9) scale(1,1.15)" font-size="8.1" text-anchor="middle">Hours</text>
<text transform="translate(366.22,473.7) scale(1,1.15)" font-size="16.4">f</text>
<rect x="384.6" y="491.7" width="62.7" height="18.7" rx="1.8" fill="#fff" stroke="#e4e4e4" stroke-width="0.9"/>
<line x1="388.2" y1="500.3" x2="408.2" y2="500.3" stroke="#d42c4e" stroke-opacity="0.85" stroke-width="1.2"/>
<text transform="translate(415.8,504.05) scale(1,1.15)" font-size="9.7">BDLP</text>
<rect x="562.4" y="491.7" width="90.7" height="18.7" rx="1.8" fill="#fff" stroke="#e4e4e4" stroke-width="0.9"/>
<line x1="566" y1="500.5" x2="586" y2="500.5" stroke="#4682b4" stroke-opacity="0.85" stroke-width="1.2"/>
<text transform="translate(593.6,504.25) scale(1,1.15)" font-size="9.7">Max rainfall</text>
<rect x="495" y="458.6" width="55" height="6.5" fill="#fff"/>
</svg></body></html>
